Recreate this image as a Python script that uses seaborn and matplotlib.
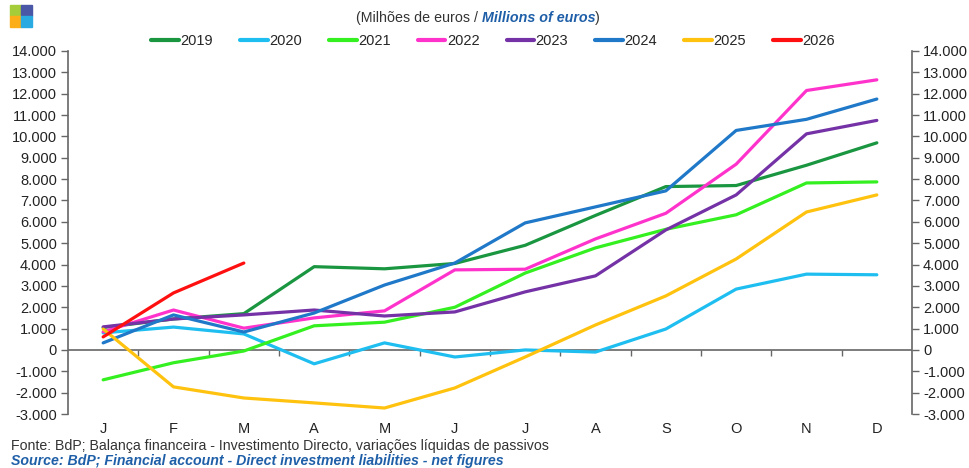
import numpy as np
import pandas as pd
import matplotlib
matplotlib.use("Agg")
import matplotlib.pyplot as plt
import matplotlib.ticker as mticker
from matplotlib.patches import Rectangle
import seaborn as sns

months = ["J", "F", "M", "A", "M", "J", "J", "A", "S", "O", "N", "D"]
years = ["2019", "2020", "2021", "2022", "2023", "2024", "2025", "2026"]

v2019 = [1050, 1450, 1700, 3900, 3800, 4050, 4900, 6300, 7650, 7700, 8650, 9700]
v2020 = [800, 1070, 750, -650, 330, -330, 0, -100, 980, 2850, 3550, 3520]
v2021 = [-1400, -600, -50, 1130, 1300, 2000, 3600, 4780, 5650, 6330, 7820, 7870]
v2022 = [850, 1870, 1020, 1500, 1830, 3750, 3780, 5200, 6400, 8700, 12150, 12650]
v2023 = [1080, 1450, 1640, 1870, 1590, 1780, 2720, 3470, 5620, 7260, 10120, 10750]
v2024 = [330, 1640, 840, 1730, 3040, 4070, 5950, 6700, 7450, 10280, 10800, 11750]
v2025 = [980, -1730, -2250, -2480, -2720, -1780, -330, 1170, 2530, 4260, 6460, 7260]
v2026 = [610, 2670, 4070]

series = [v2019, v2020, v2021, v2022, v2023, v2024, v2025, v2026]
colors = ["#1a9641", "#1ebef0", "#35f020", "#ff33cc", "#7432a6", "#1f78c8", "#ffc20e", "#ff1010"]

rows = []
for y, vals in zip(years, series):
    for i, v in enumerate(vals):
        rows.append({"year": y, "m": i, "value": v})
df = pd.DataFrame(rows)

sns.set_theme(style="white")
plt.rcParams["font.family"] = ["Liberation Sans", "DejaVu Sans"]

fig = plt.figure(figsize=(9.69, 4.68), dpi=100)
ax = fig.add_axes([68/969, 1 - 414/468, (912-68)/969, (414-51)/468])

sns.lineplot(data=df, x="m", y="value", hue="year", palette=dict(zip(years, colors)),
             linewidth=2.3, ax=ax, legend=True, estimator=None, sort=False)

ax.set_xlim(-0.5, 11.5)
ax.set_ylim(-3000, 14000)
ax.set_xlabel("")
ax.set_ylabel("")

fmt = mticker.FuncFormatter(lambda v, p: f"{int(v):,}".replace(",", "."))
ax.yaxis.set_major_locator(mticker.MultipleLocator(1000))
ax.yaxis.set_major_formatter(fmt)
tc = "#222222"
gc = "#666666"
ax.tick_params(axis="y", direction="out", length=5, width=1, color=gc, labelsize=10.5, labelcolor=tc, left=True, pad=3)
for s in ["top", "right", "bottom"]:
    ax.spines[s].set_visible(False)
ax.spines["left"].set_color(gc)
ax.spines["left"].set_linewidth(1.2)

ax.set_xticks(range(12))
ax.set_xticklabels(months)
ax.tick_params(axis="x", length=0, labelsize=10.5, labelcolor=tc, pad=6)

# zero line with boundary ticks
ax.axhline(0, color=gc, lw=1.2, zorder=1)
zero_frac = 3000 / 17000
sec = ax.secondary_xaxis(zero_frac)
sec.set_xticks(np.arange(0.5, 11, 1), labels=[""] * 11)
sec.tick_params(axis="x", direction="out", length=4, width=1, color=gc)
sec.xaxis.set_ticks_position("bottom")
for s in sec.spines.values():
    s.set_visible(False)

ax2 = ax.twinx()
ax2.set_ylim(-3000, 14000)
ax2.yaxis.set_major_locator(mticker.MultipleLocator(1000))
ax2.yaxis.set_major_formatter(fmt)
ax2.tick_params(axis="y", direction="out", length=5, width=1, color=gc, labelsize=10.5, labelcolor=tc, right=True, pad=3)
for s in ["top", "left", "bottom"]:
    ax2.spines[s].set_visible(False)
ax2.spines["right"].set_color(gc)
ax2.spines["right"].set_linewidth(1.2)
ax2.grid(False)
ax.grid(False)

# legend
handles, labels = ax.get_legend_handles_labels()
ax.get_legend().remove()
for h in handles:
    h.set_linewidth(3)
fig.legend(handles, labels, loc="center", bbox_to_anchor=(493/969, 1 - 41/468), ncol=8,
           frameon=False, fontsize=10.5, handlelength=1.9, handletextpad=0.1, columnspacing=1.85)

# subtitle
fig.canvas.draw()
r = fig.canvas.get_renderer()
parts = [("(Milhões de euros / ", "#333333", "normal", "normal"),
         ("Millions of euros", "#1f5fa8", "bold", "italic"),
         (")", "#333333", "normal", "normal")]
texts = []
for txt, col, fw, fs in parts:
    texts.append(fig.text(0, 1 - 18/468, txt, ha="left", va="center", fontsize=10.3, color=col,
                          fontweight=fw, fontstyle=fs))
widths = [t.get_window_extent(r).width for t in texts]
x = 478 - sum(widths) / 2
for t, w in zip(texts, widths):
    t.set_x(x / 969)
    x += w

# logo
s = 11 / 969
sh = 11 / 468
x0, y0 = 10 / 969, 1 - 27 / 468
fig.patches.extend([
    Rectangle((x0, y0 + sh), s, sh, transform=fig.transFigure, color="#a5cd39", figure=fig),
    Rectangle((x0 + s, y0 + sh), s, sh, transform=fig.transFigure, color="#4a56a6", figure=fig),
    Rectangle((x0, y0), s, sh, transform=fig.transFigure, color="#fbae17", figure=fig),
    Rectangle((x0 + s, y0), s, sh, transform=fig.transFigure, color="#29aae1", figure=fig),
])

# footer
fig.text(11/969, 1 - 446/468, "Fonte: BdP; Balança financeira - Investimento Directo, variações líquidas de passivos",
         ha="left", va="center", fontsize=10.2, color="#333333")
fig.text(11/969, 1 - 461/468, "Source: BdP; Financial account - Direct investment liabilities - net figures",
         ha="left", va="center", fontsize=10.2, color="#1f5fa8", fontweight="bold", fontstyle="italic")

fig.savefig("out.png", dpi=100)
